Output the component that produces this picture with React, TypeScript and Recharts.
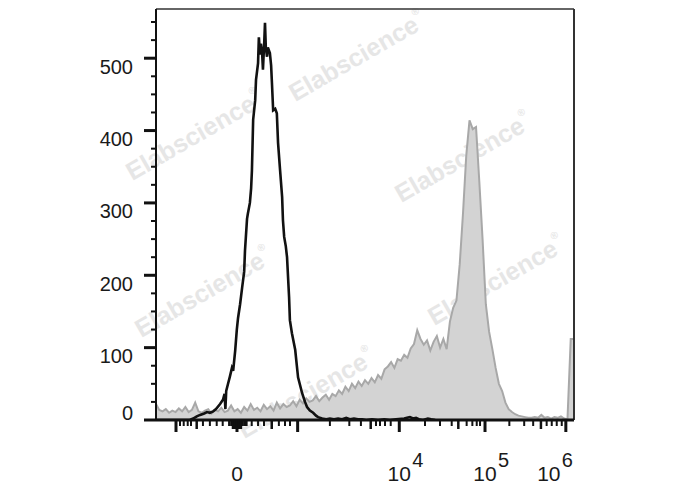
import React from 'react';
import { ComposedChart, Area, Line, XAxis, YAxis, ReferenceLine, Customized } from 'recharts';

// Display scale: 0..1024 channels (biexponential display of fluorescence)
const X_MAX = 1024;
const Y_MAX = 568;
const BIN = 8;

// Gray filled histogram (stained sample), counts per 8-channel bin
const grayCounts = [
  22, 14, 12, 15, 10, 13, 11, 16, 12, 18,
  11, 14, 24, 12, 10, 13, 15, 9, 14, 12,
  17, 11, 13, 20, 12, 15, 10, 18, 13, 22,
  14, 17, 12, 21, 15, 19, 13, 24, 16, 22,
  18,
  20, 26, 19, 28, 23, 30, 25, 27, 33, 26, 31, 35, 28, 36, 33,
  41, 36, 46, 40, 50, 44, 53, 47, 55, 50, 58, 52, 62, 57, 70,
  74, 80, 72, 84, 82, 90, 86, 99, 105, 124, 112, 104, 110, 96, 108, 116, 100, 112, 98, 136, 155, 165,
  215, 285, 365, 414, 402, 405, 330, 250,
  160, 122, 98, 72, 50, 40, 24, 15, 11, 8, 6, 5, 4, 3, 3, 4, 3, 7, 3, 4, 2, 4, 3, 5, 2, 1, 112, 112,
];

// Black outline histogram (unstained control)
const blackChannels = [
  0, 83, 91, 100, 108, 118, 125, 132, 140, 147, 157, 164, 168, 170, 172, 176, 181, 186, 189, 194,
  198, 201, 206, 211, 216, 218, 223, 225, 230, 233, 235, 238, 243, 245, 250, 252, 255, 257, 260, 262,
  265, 267, 269, 272, 274, 279, 282, 284, 287, 292, 296, 299, 304, 306, 309, 311, 314, 318, 321, 326,
  328, 333, 341, 345, 348, 353, 358, 365, 370, 377, 385, 392, 397, 407, 417, 426, 436, 446, 456, 466,
  475, 485, 495, 505, 515, 529, 544, 559, 573, 588, 608, 615, 622, 630, 637, 644, 654, 666, 674, 684,
];
const blackCounts = [
  0, 0, 2, 5, 7, 9, 11, 10, 12, 15, 22, 28, 36, 15, 40, 49, 60, 72, 68, 96,
  125, 141, 160, 183, 205, 234, 278, 285, 300, 320, 345, 415, 442, 470, 493, 529, 505, 520, 507, 484,
  520, 549, 515, 502, 515, 507, 490, 466, 428, 430, 424, 383, 345, 330, 308, 276, 253, 240, 225, 170,
  138, 120, 97, 75, 59, 48, 37, 25, 18, 13, 10, 6, 4, 2, 1, 2, 1, 2, 1, 3,
  1, 2, 1, 1, 0, 1, 0, 1, 0, 1, 2, 3, 4, 2, 3, 1, 0, 2, 1, 0,
];

// X axis ticks (channel positions of decades on the display scale)
const xMajorTicks = [49, 198.4, 347, 596, 806, 1004];
const xMediumTicks = [99.7, 188.6, 193.5, 203.3, 208, 283.5, 526, 740.6, 943];
const xMinorTicks = [
  58.8, 67.9, 77.7, 85.8, 115, 132, 148.7, 163.4, 179, 184, 213, 218,
  222, 234.5, 250, 264.6, 301, 316, 328.3,
  426, 473.6, 502, 539, 548.8, 561, 575,
  659, 695.8, 724.4, 761, 775, 785.7, 793.8,
  865.6, 902, 924, 957, 969.5, 981.7, 994,
];
const xLabelTicks = [198.4, 596, 806, 1004];
const xLabelBase = ['0', '10', '10', '10'];
const xLabelExp = ['', '4', '5', '6'];

// Y axis ticks
const yMajorTicks = [0, 100, 200, 300, 400, 500];
const yMinorTicks = [25, 50, 75, 125, 150, 175, 225, 250, 275, 325, 350, 375, 425, 450, 475, 525, 550];

const grayData = grayCounts.map((c, i) => ({ ch: i * BIN, count: c }));
const blackData = blackChannels.map((ch, i) => ({ ch, count: blackCounts[i] }));
const allXTicks = [...xMajorTicks, ...xMediumTicks, ...xMinorTicks].sort((a, b) => a - b);
const allYTicks = [...yMajorTicks, ...yMinorTicks].sort((a, b) => a - b);

const FONT = '"Liberation Sans", Arial, Helvetica, sans-serif';

const XTick = (props: any) => {
  const { x, y, payload } = props;
  const v = payload.value;
  const isMajor = xMajorTicks.includes(v);
  const isMedium = xMediumTicks.includes(v);
  const len = isMajor ? 12 : isMedium ? 9 : 6;
  const w = isMajor ? 3 : isMedium ? 2.5 : 2;
  const li = xLabelTicks.indexOf(v);
  let label = null;
  if (li >= 0) {
    const exp = xLabelExp[li];
    const cx = li === xLabelTicks.length - 1 ? x - 17 : x;
    label = (
      <g>
        <text x={cx} y={y + 61} textAnchor="middle" fontSize={21} fill="#1a1a1a" fontFamily={FONT}>
          {xLabelBase[li]}
        </text>
        {exp ? (
          <text x={cx + 13} y={y + 47} textAnchor="start" fontSize={20} fill="#1a1a1a" fontFamily={FONT}>
            {exp}
          </text>
        ) : null}
      </g>
    );
  }
  return (
    <g>
      <line x1={x} x2={x} y1={y} y2={y + len} stroke="#111" strokeWidth={w} />
      {label}
    </g>
  );
};

const YTick = (props: any) => {
  const { x, y, payload } = props;
  const v = payload.value;
  const isMajor = yMajorTicks.includes(v);
  return (
    <g>
      <line x1={x} x2={x - (isMajor ? 12 : 5)} y1={y} y2={y} stroke="#111" strokeWidth={isMajor ? 3 : 2} />
      {isMajor ? (
        <text x={x - 23} y={v === 0 ? y : y + 15.5} textAnchor="end" fontSize={20} fill="#1a1a1a" fontFamily={FONT}>
          {String(v)}
        </text>
      ) : null}
    </g>
  );
};

const Watermark = () => {
  const spots = [
    [357, 56], [194, 135], [463, 157], [203, 292], [496, 280], [306, 393],
  ];
  return (
    <g pointerEvents="none">
      {spots.map(([cx, cy], i) => (
        <text
          key={i}
          x={cx}
          y={cy}
          textAnchor="middle"
          dominantBaseline="central"
          fontSize={25}
          fontWeight={700}
          fontFamily={FONT}
          fill="#e4e4e4"
          opacity={0.9}
          transform={`rotate(-30 ${cx} ${cy})`}
        >
          Elabscience
          <tspan fontSize={10} dy={-10} dx={1}>®</tspan>
        </text>
      ))}
    </g>
  );
};

export default function App() {
  return (
    <div style={{ position: 'absolute', left: 0, top: 0, width: 688, height: 490, background: '#fff' }}>
      <ComposedChart width={688} height={490} margin={{ top: 9, right: 114, bottom: 0, left: 0 }}>
        <XAxis
          type="number"
          dataKey="ch"
          domain={[0, X_MAX]}
          allowDataOverflow
          ticks={allXTicks}
          interval={0}
          height={70}
          tickSize={0}
          tickMargin={0}
          tickLine={false}
          axisLine={{ stroke: '#111', strokeWidth: 3 }}
          tick={<XTick />}
        />
        <YAxis
          type="number"
          domain={[0, Y_MAX]}
          allowDataOverflow
          ticks={allYTicks}
          interval={0}
          width={156}
          tickSize={0}
          tickMargin={0}
          tickLine={false}
          axisLine={{ stroke: '#111', strokeWidth: 2 }}
          tick={<YTick />}
        />
        <ReferenceLine y={Y_MAX} stroke="#333" strokeWidth={1.5} />
        <ReferenceLine x={X_MAX} stroke="#333" strokeWidth={2} />
        <Area
          data={grayData}
          dataKey="count"
          type="linear"
          stroke="#a8a8a8"
          strokeWidth={2}
          fill="#d3d3d3"
          fillOpacity={1}
          isAnimationActive={false}
          dot={false}
          activeDot={false}
        />
        <Customized component={<Watermark />} />
        <Line
          data={blackData}
          dataKey="count"
          type="linear"
          stroke="#111"
          strokeWidth={2.6}
          dot={false}
          activeDot={false}
          isAnimationActive={false}
        />
      </ComposedChart>
    </div>
  );
}
